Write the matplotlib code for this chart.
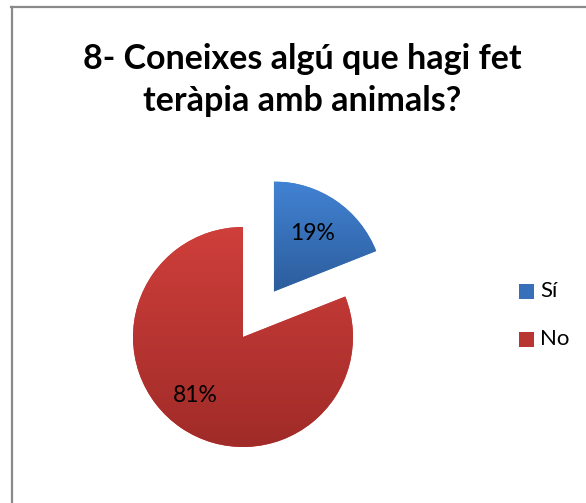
import numpy as np
import matplotlib
matplotlib.use("Agg")
import matplotlib.pyplot as plt
from matplotlib.lines import Line2D
from matplotlib.patches import Rectangle
from matplotlib.colors import LinearSegmentedColormap, to_rgb

title = "8- Coneixes algú que hagi fet\nteràpia amb animals?"
categories = ["Sí", "No"]
values = [19, 81]
labels = ["19%", "81%"]
top_colors = ["#4282d3", "#cf3f3b"]
bot_colors = ["#2c5d9c", "#a02b28"]

W, H = 586, 503
fig = plt.figure(figsize=(W / 100, H / 100), dpi=100)
ax = fig.add_axes([0, 0, 1, 1])

cx, cy, r = 243, H - 337, 110
wedges, _ = ax.pie(values, startangle=90, counterclock=False, radius=r,
                   center=(cx, cy), explode=[55, 0], frame=True,
                   colors=top_colors, wedgeprops=dict(linewidth=0))
ax.set_xlim(0, W)
ax.set_ylim(0, H)
ax.set_aspect("equal")
ax.axis("off")

for w, c1, c2 in zip(wedges, top_colors, bot_colors):
    bb = w.get_path().get_extents(w.get_transform())
    inv = ax.transData.inverted()
    (x0, y0), (x1, y1) = inv.transform([[bb.x0, bb.y0], [bb.x1, bb.y1]])
    cmap = LinearSegmentedColormap.from_list("g", [c2, c1])
    grad = np.linspace(0, 1, 256).reshape(-1, 1)
    im = ax.imshow(grad, cmap=cmap, extent=[x0, x1, y0, y1], origin="lower",
                   aspect="auto", zorder=2)
    im.set_clip_path(w)
ax.set_xlim(0, W)
ax.set_ylim(0, H)

ax.text(313, H - 233, labels[0], ha="center", va="center", fontsize=16.5,
        family="Lato", color="black", zorder=5)
ax.text(195, H - 395, labels[1], ha="center", va="center", fontsize=16.5,
        family="Lato", color="black", zorder=5)

fig.text(302 / W, 1 - 80 / H, title, ha="center", va="center", fontsize=24.5,
         fontweight="bold", family="Lato", linespacing=1.4)

# legend
for i, (cat, c1, c2) in enumerate(zip(categories, top_colors, bot_colors)):
    y = H - (291 + i * 48)
    mid = np.array(to_rgb(c1)) * 0.5 + np.array(to_rgb(c2)) * 0.5
    ax.add_patch(Rectangle((519, y - 7.5), 15, 15, facecolor=mid,
                           edgecolor="none", zorder=5))
    ax.text(540, y, cat, ha="left", va="center", fontsize=16, family="Lato", zorder=5)

# border
fig.add_artist(Line2D([11 / W, 1], [1 - 7 / H, 1 - 7 / H], color="#8a8a8a", lw=1.6))
fig.add_artist(Line2D([12 / W, 12 / W], [0, 1 - 7 / H], color="#8a8a8a", lw=1.6))

fig.savefig("out.png", dpi=100, facecolor="white")
